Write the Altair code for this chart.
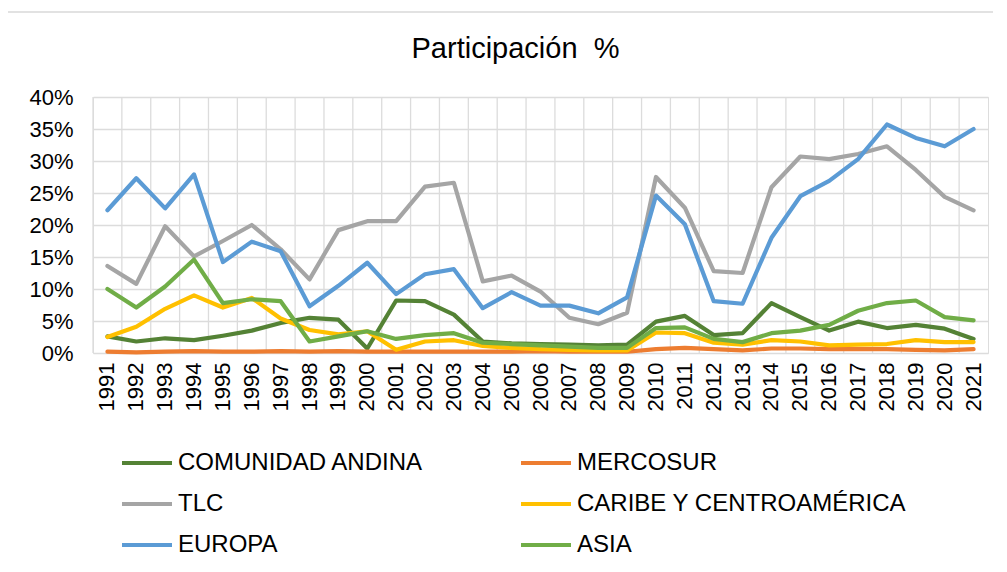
import altair as alt
import pandas as pd

years = ["1991", "1992", "1993", "1994", "1995", "1996", "1997", "1998", "1999", "2000",
         "2001", "2002", "2003", "2004", "2005", "2006", "2007", "2008", "2009", "2010",
         "2011", "2012", "2013", "2014", "2015", "2016", "2017", "2018", "2019", "2020", "2021"]

comunidad_andina = [2.6, 1.8, 2.3, 2.0, 2.7, 3.5, 4.7, 5.5, 5.2, 0.7,
                    8.2, 8.1, 6.0, 1.8, 1.5, 1.4, 1.3, 1.2, 1.3, 4.9,
                    5.8, 2.8, 3.1, 7.8, 5.6, 3.5, 4.9, 3.9, 4.4, 3.8, 2.2]
mercosur = [0.2, 0.1, 0.2, 0.3, 0.2, 0.2, 0.3, 0.2, 0.3, 0.2,
            0.2, 0.2, 0.2, 0.2, 0.2, 0.3, 0.2, 0.2, 0.2, 0.6,
            0.8, 0.6, 0.4, 0.7, 0.7, 0.6, 0.6, 0.6, 0.5, 0.4, 0.6]
tlc = [13.6, 10.8, 19.8, 15.1, 17.5, 20.0, 16.2, 11.5, 19.2, 20.6,
       20.6, 26.0, 26.6, 11.2, 12.1, 9.6, 5.5, 4.5, 6.3, 27.5,
       22.7, 12.8, 12.5, 25.9, 30.7, 30.3, 31.1, 32.3, 28.6, 24.4, 22.3]
caribe = [2.5, 4.1, 6.9, 9.0, 7.1, 8.6, 5.4, 3.6, 2.9, 3.4,
          0.5, 1.8, 2.0, 1.1, 0.8, 0.6, 0.5, 0.4, 0.4, 3.2,
          3.1, 1.6, 1.3, 2.0, 1.8, 1.2, 1.3, 1.4, 2.0, 1.7, 1.7]
europa = [22.3, 27.3, 22.6, 27.9, 14.2, 17.4, 15.9, 7.3, 10.5, 14.1,
          9.2, 12.3, 13.1, 7.0, 9.5, 7.4, 7.4, 6.2, 8.7, 24.6,
          20.1, 8.1, 7.7, 18.0, 24.5, 26.9, 30.3, 35.7, 33.6, 32.3, 35.0]
asia = [10.0, 7.1, 10.4, 14.6, 7.8, 8.4, 8.1, 1.8, 2.6, 3.4,
        2.2, 2.8, 3.1, 1.6, 1.4, 1.2, 1.0, 0.8, 0.8, 3.9,
        4.0, 2.2, 1.7, 3.1, 3.5, 4.4, 6.6, 7.8, 8.2, 5.6, 5.1]

series_names = ["COMUNIDAD ANDINA", "MERCOSUR", "TLC", "CARIBE Y CENTROAMÉRICA", "EUROPA", "ASIA"]
series_values = [comunidad_andina, mercosur, tlc, caribe, europa, asia]
series_colors = ["#548235", "#ED7D31", "#A5A5A5", "#FFC000", "#5B9BD5", "#70AD47"]

rows = []
for k, (name, vals) in enumerate(zip(series_names, series_values)):
    for y, v in zip(years, vals):
        rows.append({"year": y, "serie": name, "value": v, "k": k})
df = pd.DataFrame(rows)
years_df = pd.DataFrame({"year": years})

FONT = "Liberation Sans"
W, H = 895, 256

xscale = alt.Scale(type="band", paddingInner=0, paddingOuter=0, domain=years)
xaxis = alt.Axis(labelAngle=-90, labelFontSize=22, labelFont=FONT, labelColor="#000000",
                 ticks=False, domain=False, grid=False, labelPadding=9)

vgrid = alt.Chart(years_df).mark_rule(color="#dcdcdc", strokeWidth=1.3).encode(
    x=alt.X("year:O", scale=xscale, bandPosition=0, axis=xaxis, title=None)
)

lines = alt.Chart(df).mark_line(strokeWidth=4.2, strokeJoin="round", strokeCap="round").encode(
    x=alt.X("year:O", scale=xscale, bandPosition=0.5, title=None, axis=xaxis),
    y=alt.Y("value:Q", scale=alt.Scale(domain=[0, 40]), title=None,
            axis=alt.Axis(values=[0, 5, 10, 15, 20, 25, 30, 35, 40], labelExpr="datum.value + '%'",
                          labelFontSize=22, labelFont=FONT, labelColor="#000000",
                          ticks=False, domain=False, grid=True, gridColor="#dcdcdc",
                          gridWidth=1.3, labelPadding=20)),
    color=alt.Color("serie:N", scale=alt.Scale(domain=series_names, range=series_colors),
                    legend=alt.Legend(orient="none", legendX=27, legendY=339, columns=2,
                                      direction="horizontal", title=None,
                                      symbolType="stroke", symbolSize=2500, symbolStrokeWidth=4,
                                      labelFontSize=24, labelFont=FONT, labelColor="#000000",
                                      labelOffset=4, columnPadding=89, rowPadding=2,
                                      labelLimit=500, padding=0)),
    order=alt.Order("k:Q"),
    detail="serie:N",
)

one = pd.DataFrame({"a": [0]})
frame_left = alt.Chart(one).mark_rule(color="#d9d9d9", strokeWidth=1.5).encode(
    x=alt.value(-86), y=alt.value(-85), y2=alt.value(700))
frame_top = alt.Chart(one).mark_rule(color="#d9d9d9", strokeWidth=1.5).encode(
    x=alt.value(-86), x2=alt.value(1100), y=alt.value(-85))

chart = alt.layer(vgrid, lines, frame_left, frame_top).properties(
    width=W, height=H,
    title=alt.TitleParams("Participación\u00a0\u00a0%", fontSize=29, font=FONT, fontWeight="normal",
                          anchor="middle", frame="group", dx=-25, offset=-53, color="#000000"),
    padding={"left": 85, "top": 89, "right": 5, "bottom": 214},
    autosize=alt.AutoSizeParams(type="none"),
).configure_view(stroke="#d9d9d9", strokeWidth=1.3, fill="#f2f2f2").configure(background="white")

chart.save("out.html", embed_options={"renderer": "svg", "actions": False})
